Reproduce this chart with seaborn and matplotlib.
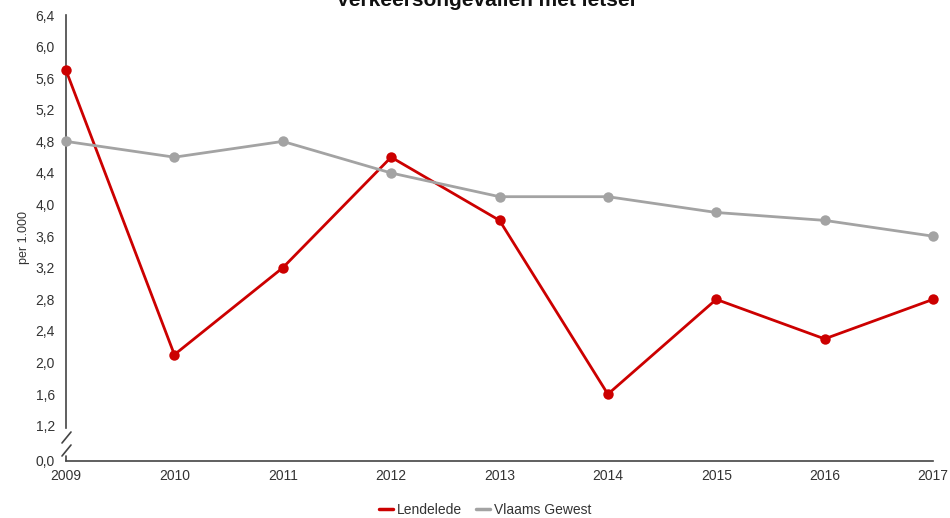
import numpy as np
import pandas as pd
import matplotlib
matplotlib.use("Agg")
import matplotlib.pyplot as plt
import seaborn as sns
from matplotlib.ticker import FixedLocator, FuncFormatter

years = [2009, 2010, 2011, 2012, 2013, 2014, 2015, 2016, 2017]
lendelede = [5.7, 2.1, 3.2, 4.6, 3.8, 1.6, 2.8, 2.3, 2.8]
vlaams_gewest = [4.8, 4.6, 4.8, 4.4, 4.1, 4.1, 3.9, 3.8, 3.6]
series_names = ["Lendelede", "Vlaams Gewest"]
series_colors = ["#cc0000", "#a3a3a3"]
y_ticks = [0.0, 1.2, 1.6, 2.0, 2.4, 2.8, 3.2, 3.6, 4.0, 4.4, 4.8, 5.2, 5.6, 6.0, 6.4]

sns.set_theme(style="white")
plt.rcParams["font.family"] = ["Liberation Sans", "DejaVu Sans"]

df = pd.DataFrame({
    "jaar": years * 2,
    "waarde": lendelede + vlaams_gewest,
    "reeks": [series_names[0]] * len(years) + [series_names[1]] * len(years),
})

# Broken axis: values from 1.2 upward are linear, 0..1.2 is compressed
BREAK = 1.2
ZERO_POS = 0.754
def fwd(v):
    v = np.asarray(v, dtype=float)
    return np.where(v >= BREAK, v, ZERO_POS + v * (BREAK - ZERO_POS) / BREAK)

def inv(t):
    t = np.asarray(t, dtype=float)
    return np.where(t >= BREAK, t, (t - ZERO_POS) * BREAK / (BREAK - ZERO_POS))

fig = plt.figure(figsize=(9.5, 5.18), dpi=100)
ax = fig.add_axes([66 / 950, 57 / 518, 867 / 950, 446 / 518])

sns.lineplot(data=df, x="jaar", y="waarde", hue="reeks", palette=series_colors,
             hue_order=series_names, marker="o", markersize=7.5, markeredgewidth=0,
             linewidth=2, ax=ax, legend=False, zorder=3)
for ln in ax.lines:
    ln.set_clip_on(False)

ax.set_yscale("function", functions=(fwd, inv))
ax.set_ylim(0, 6.4)
ax.set_xlim(2009, 2017)
ax.yaxis.set_major_locator(FixedLocator(y_ticks))
ax.yaxis.set_minor_locator(FixedLocator([]))
ax.yaxis.set_major_formatter(FuncFormatter(lambda v, p: f"{v:.1f}".replace(".", ",")))
ax.set_xticks(years)
ax.set_xticklabels([str(y) for y in years])
ax.tick_params(axis="both", length=0, labelsize=10, colors="#333333")
ax.tick_params(axis="y", pad=8)
ax.tick_params(axis="x", pad=6)

for s in ["top", "right"]:
    ax.spines[s].set_visible(False)
for s in ["left", "bottom"]:
    ax.spines[s].set_color("#444444")
    ax.spines[s].set_linewidth(1.2)
ax.spines["left"].set_bounds(1.12, 6.4)

# break marks on the y axis
h = 446.0
w = 867.0
def ax_pt(px, py):
    return ((px - 66) / w, (461 - py) / h)
for (x0, y0), (x1, y1) in [((62, 443), (71, 432)), ((62, 456), (71, 445))]:
    a = ax_pt(x0, y0); b = ax_pt(x1, y1)
    ax.plot([a[0], b[0]], [a[1], b[1]], transform=ax.transAxes, color="#444444",
            lw=1.2, clip_on=False)
a = ax_pt(66.4, 456); b = ax_pt(66.4, 461)
ax.plot([a[0], b[0]], [a[1], b[1]], transform=ax.transAxes, color="#444444",
        lw=1.2, clip_on=False)

ax.set_xlabel("")
ax.set_ylabel("per 1.000", fontsize=9, color="#333333", labelpad=4)

fig.text(0.511, 1 - 6 / 518, "Verkeersongevallen met letsel", ha="center",
         va="baseline", fontsize=15, fontweight="bold", color="#111111")

handles = [plt.Line2D([], [], color=c, lw=2.5) for c in series_colors]
fig.legend(handles, series_names, loc="center", bbox_to_anchor=(0.511, 1 - 510 / 518),
           ncol=2, frameon=False, fontsize=10, handlelength=1.0, handletextpad=0.3,
           columnspacing=1.0, labelcolor="#333333")

fig.savefig("out.png", dpi=100, facecolor="white")
